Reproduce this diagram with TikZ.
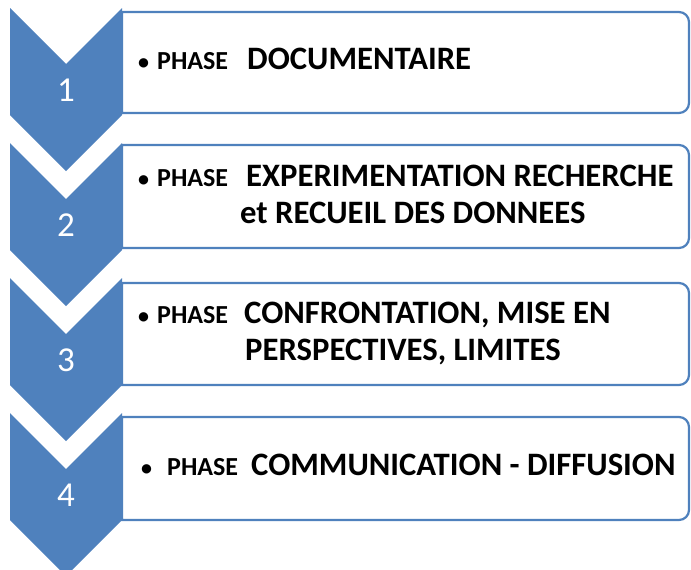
\documentclass[tikz,border=0pt]{standalone}
\usepackage{fontspec}
\setmainfont{Carlito}
\definecolor{offblue}{HTML}{4F81BD}
\begin{document}
\begin{tikzpicture}[x=1pt,y=-1pt,
  chev/.style={fill=offblue,draw=none},
  boxline/.style={draw=offblue,line width=2.2pt,fill=white},
  num/.style={text=white,font=\fontsize{35}{35}\selectfont,anchor=center,inner sep=0pt},
  big/.style={font=\fontsize{32.7}{32.7}\selectfont\bfseries,anchor=base west,inner sep=0pt},
  small/.style={font=\fontsize{26}{26}\selectfont\bfseries,anchor=base west,inner sep=0pt},
  dot/.style={font=\fontsize{22}{22}\selectfont\bfseries,anchor=base west,inner sep=0pt}]
\useasboundingbox (0,0) rectangle (691,570);

% text boxes (square left corners, rounded right corners)
\foreach \t/\b in {12/113,145/248,283/385,417/520}{
  \draw[boxline] (122,\b) -- (122,\t) -- (679,\t)
    .. controls (684.5,\t) and (689,\t+4.5) .. (689,\t+10)
    -- (689,\b-10)
    .. controls (689,\b-4.5) and (684.5,\b) .. (679,\b)
    -- cycle;
}

% chevrons
\foreach \t/\n in {8/1,143/2,278/3,413/4}{
  \fill[chev] (10,\t) -- (66,\t+56) -- (122,\t) -- (122,\t+107)
    -- (66,\t+163) -- (10,\t+107) -- cycle;
  \node[num] (n\n) at (66,\t+82) {\n};
}

% phase 1
\node[dot] (b1) at (138,69) {•};
\node[small] (p1) at (157,69) {PHASE};
\node[big] (t1) at (247,69) {DOCUMENTAIRE};

% phase 2
\node[dot] (b2) at (138,186) {•};
\node[small] (p2) at (157,186) {PHASE};
\node[big] (t2a) at (246,186) {EXPERIMENTATION RECHERCHE};
\node[big] (t2b) at (240,223) {et RECUEIL DES DONNEES};

% phase 3
\node[dot] (b3) at (138,323) {•};
\node[small] (p3) at (157,323) {PHASE};
\node[big] (t3a) at (244,323) {CONFRONTATION, MISE EN};
\node[big] (t3b) at (245,360) {PERSPECTIVES, LIMITES};

% phase 4
\node[dot] (b4) at (141,475) {•};
\node[small] (p4) at (167,475) {PHASE};
\node[big] (t4) at (251,475) {COMMUNICATION - DIFFUSION};
\end{tikzpicture}
\end{document}
